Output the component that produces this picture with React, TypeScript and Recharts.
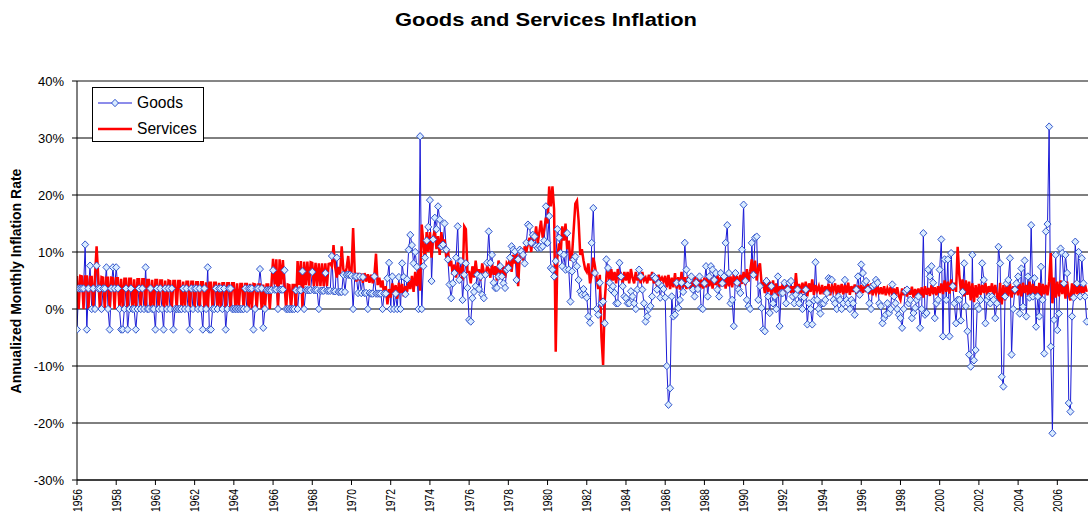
import React from 'react';
import { LineChart, Line, XAxis, YAxis, CartesianGrid, ReferenceLine } from 'recharts';

// Monthly annualized inflation (%), Jan 1956 onward
const goods1956to1965 = [
  -3.6, 3.6, 3.6, 3.6, 3.6, 11.3, -3.6, 3.6, 7.6, 0, 3.6, 0,
  7.6, 3.6, 3.6, 0, 3.6, 3.6, 7.3, 0, -3.6, 3.6, 7.3, 3.6,
  7.3, 3.6, 0, -3.6, -3.6, 0, 3.6, -3.6, 0, 3.6, 0, 0,
  -3.6, 0, 3.6, 0, 3.6, 0, 7.3, 0, 0, 3.6, 0, 0,
  -3.6, 3.6, 0, 3.6, 0, -3.6, 3.6, 0, 3.6, 0, 3.6, -3.6,
  0, 0, 0, 0, 0, 3.6, 0, 3.6, 0, -3.6, 3.6, 0,
  3.6, 3.6, 0, 3.6, 0, -3.6, 3.6, 0, 7.3, -3.6, -3.6, 0,
  0, 3.6, 0, 3.6, 3.6, 0, 3.6, -3.6, 0, 3.6, 3.6, 0,
  0, 0, 0, 0, 0, 0, 0, 3.6, 0, 3.6, 3.6, 3.6,
  -3.6, 0, 3.6, 3.6, 7.0, 3.6, -3.3, 0, 3.3, 3.3, 3.3, 3.3,
];
const goods1966to1975 = [
  6.8, 3.4, 3.4, 0, 3.4, 3.4, 3.4, 6.8, 0, 0, 0, 0,
  0, 0, 3.3, 0, 3.3, 3.3, 6.6, 0, 3.3, 3.3, 3.3, 3.3,
  6.5, 3.3, 3.3, 3.3, 0, 3.2, 3.2, 3.2, 6.3, 3.2, 3.2, 3.2,
  9.3, 3.1, 3.1, 9.0, 3.0, 3.0, 3.0, 6.0, 3.0, 6.0, 6.0, 6.0,
  5.8, 0, 5.7, 5.7, 2.8, 5.7, 2.8, 5.6, 2.8, 2.8, 0, 2.8,
  2.7, 2.7, 5.7, 2.7, 2.7, 2.7, 2.7, 0, 2.7, 2.7, 5.4, 8.1,
  0, 5.7, 0, 2.7, 0, 5.6, 0, 8.0, 5.6, 2.6, 5.2, 10.4,
  13.0, 11.2, 8.0, 10.0, 7.4, 0, 30.3, 0, 7.5, 9.0, 12.0, 14.4,
  19.1, 4.9, 12.2, 16.0, 14.0, 18.0, 15.7, 11.0, 11.3, 15.0, 10.4, 8.7,
  4.3, 1.9, 4.5, 6.3, 9.0, 14.5, 5.1, 8.4, 1.6, 6.0, 8.0, 3.7,
];
const goods1976to1985 = [
  -1.9, -2.2, 1.9, 3.0, 4.0, 6.0, 3.5, 5.7, 2.5, 1.9, 6.0, 8.1,
  13.6, 8.1, 9.5, 4.6, 3.7, 3.7, 5.7, 7.5, 5.7, 4.5, 3.7, 6.9,
  7.2, 9.0, 11.0, 10.4, 10.1, 5.1, 8.7, 10.4, 10.1, 9.5, 8.0, 11.6,
  14.8, 14.5, 11.6, 13.0, 12.7, 11.0, 10.7, 11.0, 10.7, 11.0, 12.0, 18.0,
  11.6, 16.3, 7.2, 6.9, 5.7, 8.4, 14.0, 12.5, 9.8, 7.5, 9.5, 6.9,
  13.3, 6.9, 1.3, 6.6, 8.7, 9.2, 7.5, 5.1, 3.1, 2.5, 3.5, 2.5,
  2.0, -1.3, -2.4, 11.6, 17.7, 6.3, 0.0, -1.0, 4.6, 1.0, 1.3, -2.5,
  8.7, 7.2, 4.6, 3.4, 4.0, 2.8, 1.0, 1.0, 8.1, 5.7, 4.0, 2.2,
  1.9, 1.0, 1.0, 3.1, 2.2, 1.0, 0.0, 3.4, 6.9, 5.7, 3.4, 1.0,
  -2.2, -1.3, 0.0, 0.5, 2.2, 5.7, 5.4, 3.4, 4.5, 2.0, 4.0, 3.5,
];
const goods1986to1995 = [
  2.0, -10.0, -16.8, -13.9, 2.2, -1.3, -1.0, 4.6, 0.2, 1.6, 4.6, 3.0,
  11.6, 6.9, 4.3, 5.1, 5.7, 3.4, 2.2, 4.6, 3.5, 5.7, 0.2, 0.0,
  4.5, 7.5, 2.2, 5.7, 7.5, 6.9, 5.1, 6.3, 3.4, 2.2, 6.3, 4.5,
  5.7, 11.6, 14.7, 6.3, 1.0, 1.6, -3.0, 6.3, 4.6, 3.4, 2.8, 10.4,
  18.3, 4.9, 1.6, 0.5, 0.0, 11.6, 6.0, 12.5, 12.7, 1.6, 4.0, 0.2,
  -3.6, -3.9, 4.9, 2.2, -0.7, 4.0, 1.0, 2.2, 0.0, 5.7, -3.0, 2.8,
  2.8, 4.6, 1.0, 3.4, 4.6, 4.9, 2.2, 1.0, 2.5, 3.4, 1.0, 2.2,
  0.0, 2.0, 3.4, -2.7, 1.0, 0.0, -2.7, 1.5, 8.2, 1.6, 0.0, -0.8,
  1.0, 1.0, 1.6, 2.8, 5.4, 5.2, 5.1, 1.6, 1.0, 0.0, 2.2, 1.6,
  0.0, 1.0, 5.1, 1.6, 1.0, 0.0, 1.6, 1.0, -1.0, 3.4, 5.7, 2.5,
];
const goods1996to2007 = [
  7.8, 6.3, 4.6, 4.9, 3.4, 1.0, 0.0, 4.0, 4.3, 5.1, 4.6, 1.0,
  0.5, -2.5, -1.6, -1.0, 1.0, -0.7, 0.0, 4.3, 2.2, 1.0, 0.0, -1.0,
  -1.6, -3.3, 0.0, 3.1, 3.4, 1.0, 1.6, -1.6, -0.7, 0.2, 1.6, 2.2,
  -3.3, 0.0, 13.3, -1.0, -0.7, 6.9, 5.7, 7.5, 4.6, -1.6, 1.0, 1.6,
  6.9, 12.2, -4.8, 8.7, 1.6, 8.7, -4.8, 9.8, 4.0, 1.0, -2.5, 1.6,
  1.6, -2.0, 3.0, 8.0, 0.5, -3.9, -8.0, -10.1, 9.5, -9.0, -7.2, 0.5,
  0.0, 1.6, 8.0, 5.1, -2.5, 1.6, 2.2, 1.0, 2.2, 1.6, -1.6, 1.0,
  10.9, 8.0, -11.9, -13.6, 2.2, 4.5, 5.1, 8.9, -8.0, 0.0, 3.4, 4.5,
  5.7, -0.8, 7.1, 0.4, 8.5, -1.3, 5.7, 2.0, 14.7, 2.2, 5.4, -3.1,
  2.2, -1.3, 7.4, 1.6, -7.8, 13.6, 14.9, 32.0, -6.6, -21.8, -1.9, 9.5,
  -3.7, -0.8, 10.6, 9.8, 4.5, 9.5, 6.3, -16.5, -18.0, -1.3, 2.0, 11.8,
  4.5, 10.0, 2.2, 8.9, 4.5, 2.2, -2.2,
];

const services1956to1965 = [
  5.8, 0, 5.8, 5.7, 0, 5.7, 5.7, 0, 5.6, 5.6, 0, 5.6,
  11.0, 5.6, 0, 5.6, 5.5, 0, 5.5, 5.5, 0, 5.5, 5.4, 0,
  5.4, 5.4, 0, 5.3, 0, 5.3, 5.3, 0, 5.3, 5.3, 0, 5.2,
  0, 5.2, 5.2, 0, 5.2, 5.2, 0, 5.1, 5.1, 0, 5.1, 0,
  5.1, 5.1, 0, 5.0, 5.0, 0, 5.0, 0, 5.0, 4.9, 0, 4.9,
  4.9, 0, 4.9, 4.9, 0, 4.8, 0, 4.8, 4.8, 0, 4.8, 4.8,
  0, 4.7, 4.7, 0, 4.7, 4.7, 0, 4.7, 0, 4.6, 4.6, 0,
  4.6, 4.6, 0, 4.6, 0, 4.5, 4.5, 0, 4.5, 4.5, 0, 4.5,
  4.5, 0, 4.5, 0, 4.4, 4.4, 0, 4.4, 4.4, 0, 4.4, 0,
  4.4, 4.3, 0, 4.3, 4.3, 0, 4.3, 0, 4.3, 4.3, 0, 4.3,
];
const services1966to1975 = [
  8.8, 4.3, 8.7, 0, 8.7, 4.3, 8.6, 4.3, 0, 4.3, 4.2, 0,
  4.2, 4.2, 0, 8.4, 4.2, 8.4, 0, 8.3, 4.2, 8.3, 4.1, 8.2,
  8.1, 4.0, 8.1, 4.0, 8.0, 4.0, 8.0, 4.0, 8.0, 4.0, 7.9, 8.0,
  7.5, 11.2, 7.4, 5.5, 7.4, 6.0, 11.0, 7.0, 5.8, 7.2, 9.3, 6.0,
  6.5, 14.2, 6.4, 4.8, 6.3, 5.0, 6.2, 4.6, 6.3, 4.8, 6.1, 4.6,
  6.0, 4.5, 5.8, 9.7, 4.2, 5.5, 3.8, 5.0, 2.2, 4.0, 0.8, 3.5,
  2.0, 4.5, 2.5, 4.2, 1.8, 4.6, 2.8, 4.4, 2.2, 4.0, 3.0, 4.8,
  3.5, 5.8, 3.0, 6.5, 4.0, 7.0, 3.2, 14.8, 11.5, 8.5, 13.5, 10.0,
  13.5, 9.0, 12.5, 14.0, 10.5, 12.8, 9.5, 13.5, 11.0, 12.2, 9.0, 10.5,
  7.5, 8.5, 6.0, 7.8, 5.5, 8.2, 6.5, 7.0, 5.0, 14.5, 14.0, 6.5,
];
const services1976to1985 = [
  6.5, 4.5, 7.5, 5.5, 8.5, 6.0, 7.0, 5.0, 8.0, 6.5, 5.5, 7.5,
  7.0, 5.5, 8.0, 6.0, 7.5, 5.0, 8.5, 6.5, 6.0, 7.5, 5.5, 8.0,
  7.5, 9.0, 6.5, 9.5, 8.0, 10.0, 4.0, 9.5, 10.5, 8.5, 11.0, 10.0,
  11.5, 12.5, 10.0, 13.0, 12.0, 14.5, 11.5, 13.5, 15.5, 12.5, 14.0, 16.0,
  15.0, 21.5, 18.0, 21.5, 17.5, -7.5, 9.0, 11.5, 9.5, 14.5, 12.0, 15.0,
  10.5, 12.0, 8.5, 9.5, 14.0, 18.5, 19.0, 15.5, 9.5, 10.5, 8.5, 7.0,
  6.5, 8.0, 4.5, 6.0, 9.0, 7.5, 5.5, 3.5, 6.0, -5.0, -9.8, 1.5,
  5.5, 7.5, 4.0, 7.0, 5.0, 6.5, 4.5, 7.0, 5.5, 6.0, 4.5, 6.5,
  5.0, 6.5, 4.5, 7.0, 5.5, 4.5, 6.5, 5.0, 6.0, 4.5, 6.5, 5.0,
  5.5, 4.5, 6.0, 5.0, 6.5, 4.5, 5.5, 4.0, 6.0, 5.0, 5.5, 4.8,
];
const services1986to1995 = [
  5.8, 3.8, 6.0, 3.5, 5.5, 3.8, 6.3, 3.6, 5.6, 3.4, 6.5, 3.8,
  5.6, 3.5, 5.8, 3.6, 5.4, 3.2, 5.7, 3.8, 5.6, 3.5, 5.2, 3.6,
  5.5, 3.8, 5.6, 4.0, 5.8, 3.6, 5.5, 4.2, 5.9, 3.8, 5.6, 4.0,
  5.8, 3.6, 6.0, 4.0, 5.7, 3.8, 6.2, 4.2, 5.8, 3.9, 6.0, 4.4,
  6.5, 4.2, 7.0, 4.8, 6.6, 8.7, 5.5, 8.5, 5.0, 7.2, 8.0, 4.5,
  4.5, 2.8, 5.5, 3.0, 4.8, 2.5, 5.0, 2.8, 4.5, 2.2, 4.0, 3.0,
  4.6, 2.5, 4.2, 3.0, 4.8, 2.8, 4.0, 2.6, 6.3, 3.0, 4.4, 2.4,
  4.6, 2.8, 4.8, 2.2, 4.5, 3.0, 5.2, 2.5, 4.2, 3.2, 4.0, 2.6,
  4.2, 2.6, 4.0, 3.0, 4.4, 2.4, 4.0, 3.2, 4.5, 2.5, 4.2, 2.8,
  4.4, 2.6, 4.2, 2.8, 4.6, 2.5, 4.0, 3.0, 4.3, 2.6, 4.1, 2.9,
];
const services1996to2007 = [
  4.2, 2.8, 4.0, 3.0, 4.4, 2.6, 4.5, 2.4, 3.8, 2.8, 4.0, 2.6,
  3.8, 2.6, 4.0, 2.4, 3.6, 2.8, 3.9, 2.2, 3.6, 2.6, 3.8, 2.3,
  1.6, 3.6, 2.4, 3.8, 2.2, 3.6, 2.5, 3.9, 2.0, 3.5, 2.4, 3.6,
  2.2, 3.8, 2.0, 4.0, 2.5, 3.7, 2.3, 4.2, 2.6, 3.8, 2.4, 4.0,
  2.8, 4.5, 2.6, 5.0, 3.0, 4.8, 2.7, 5.2, 3.2, 4.6, 3.0, 10.9,
  6.0, 3.0, 5.2, 2.2, 5.0, 2.5, 4.8, 1.5, 4.5, 1.2, 4.2, 2.0,
  4.4, 2.5, 4.2, 2.8, 4.6, 2.2, 4.0, 3.0, 4.5, 2.4, 4.2, 2.6,
  1.0, 4.6, 0.8, 4.2, 1.5, 4.4, 2.2, 4.5, 2.0, 4.0, 2.6, 4.3,
  2.4, 4.4, 2.2, 4.6, 2.8, 4.2, 2.5, 4.8, 2.3, 4.4, 2.6, 4.0,
  2.2, 4.6, 2.0, 4.4, 2.6, 4.2, 2.4, 4.8, 9.8, 1.0, 5.5, 2.0,
  4.8, 2.2, 5.0, 2.6, 4.6, 1.8, 4.8, 2.4, 1.5, 4.5, 2.2, 4.8,
  2.6, 4.2, 2.4, 4.0, 2.8, 4.2, 3.0,
];

const xTickYears = ['1956', '1958', '1960', '1962', '1964', '1966', '1968', '1970', '1972', '1974', '1976', '1978', '1980', '1982', '1984', '1986', '1988', '1990', '1992', '1994', '1996', '1998', '2000', '2002', '2004', '2006'];
const yTickValues = [-30, -20, -10, 0, 10, 20, 30, 40];

const goods = [...goods1956to1965, ...goods1966to1975, ...goods1976to1985, ...goods1986to1995, ...goods1996to2007];
const services = [...services1956to1965, ...services1966to1975, ...services1976to1985, ...services1986to1995, ...services1996to2007];

const data = goods.map((g, i) => ({ m: i, goods: g, goodsMarker: g, services: services[i] }));
const xTicks = xTickYears.map((_, i) => i * 24);

const FONT = '"Liberation Sans", Arial, sans-serif';
const BLUE = '#1a1ad6';
const MARK_FILL = '#d9ecff';
const MARK_STROKE = '#3355cc';

const Diamond = (props: any) => {
  const { cx, cy, index } = props;
  if (cx == null || cy == null) return <g key={`d${index}`} />;
  return (
    <path
      key={`d${index}`}
      d={`M${cx},${cy - 3.7}L${cx + 3.5},${cy}L${cx},${cy + 3.7}L${cx - 3.5},${cy}Z`}
      fill={MARK_FILL}
      stroke={MARK_STROKE}
      strokeWidth={1}
    />
  );
};

const XTick = (props: any) => {
  const { x, y, payload } = props;
  const label = xTickYears[Math.round(payload.value / 24)];
  return (
    <g transform={`translate(${x},${y + 2})`}>
      <text
        transform="rotate(-90)"
        textAnchor="end"
        dy="0.36em"
        fontSize={12.5}
        textLength={23}
        lengthAdjust="spacingAndGlyphs"
        fontFamily={FONT}
        fill="#000"
      >
        {label}
      </text>
    </g>
  );
};

const YTick = (props: any) => {
  const { x, y, payload } = props;
  return (
    <text x={x} y={y} textAnchor="end" dy="0.36em" fontSize={13} fontFamily={FONT} fill="#000">
      {`${payload.value}%`}
    </text>
  );
};

export default function App() {
  return (
    <div style={{ position: 'absolute', left: 0, top: 0, width: 1088, height: 523, overflow: 'hidden', background: '#fff' }}>
      <LineChart width={1092} height={523} data={data} margin={{ top: 81, right: 2, bottom: 0, left: 0 }}>
        <CartesianGrid vertical={false} stroke="#000" strokeWidth={1} />
        <XAxis
          dataKey="m"
          type="number"
          domain={[0, 620]}
          ticks={xTicks}
          interval={0}
          tick={<XTick />}
          tickSize={5}
          height={43}
          stroke="#000"
          allowDataOverflow
        />
        <YAxis
          type="number"
          domain={[-30, 40]}
          ticks={yTickValues}
          interval={0}
          tick={<YTick />}
          tickSize={5}
          tickMargin={8}
          width={77}
          stroke="#000"
        />
        <ReferenceLine y={40} stroke="#8c8c8c" />
        <Line type="linear" dataKey="goods" stroke={BLUE} strokeWidth={1} dot={false} isAnimationActive={false} />
        <Line type="linear" dataKey="services" stroke="#ff0000" strokeWidth={2.5} dot={false} isAnimationActive={false} />
        <Line type="linear" dataKey="goodsMarker" stroke="none" strokeWidth={0} dot={Diamond} activeDot={false} isAnimationActive={false} />
      </LineChart>
      <svg width={1088} height={523} style={{ position: 'absolute', left: 0, top: 0, pointerEvents: 'none' }}>
        <text x={546} y={26} textAnchor="middle" fontSize={18} fontWeight="bold" fontFamily={FONT} textLength={302} lengthAdjust="spacingAndGlyphs" fill="#000">
          Goods and Services Inflation
        </text>
        <text transform="translate(21,281) rotate(-90)" textAnchor="middle" fontSize={14} fontWeight="bold" fontFamily={FONT} fill="#000">
          Annualized Monthly Inflation Rate
        </text>
        <rect x={92.5} y={87.5} width={111} height={54} fill="#fff" stroke="#000" strokeWidth={1} />
        <line x1={98} y1={103} x2={132} y2={103} stroke={BLUE} strokeWidth={1} />
        <path d="M115,99.3L118.5,103L115,106.7L111.5,103Z" fill={MARK_FILL} stroke={MARK_STROKE} strokeWidth={1} />
        <text x={137} y={107.5} fontSize={15.6} fontFamily={FONT} fill="#000">Goods</text>
        <line x1={98} y1={129} x2={132} y2={129} stroke="#ff0000" strokeWidth={2.5} />
        <text x={137} y={133.5} fontSize={15.6} fontFamily={FONT} fill="#000">Services</text>
      </svg>
    </div>
  );
}
